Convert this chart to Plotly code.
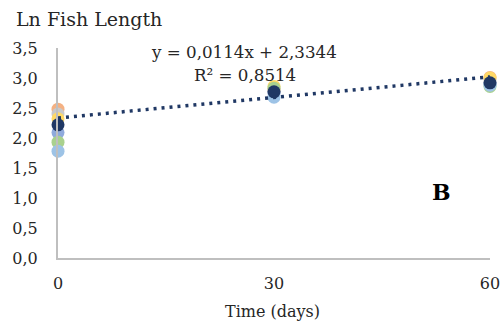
import plotly.graph_objects as go

days = [0, 30, 60]
series_names = ["S1", "S2", "S3", "S4", "S5", "S6", "Mean"]
series_values = [
    [2.48, 2.80, 3.01],
    [2.40, 2.78, 2.95],
    [2.32, 2.86, 3.00],
    [2.09, 2.75, 2.90],
    [1.93, 2.83, 2.86],
    [1.78, 2.68, 2.88],
    [2.22, 2.77, 2.92],
]
series_colors = ["#F4B183", "#C9C9C9", "#FFD966", "#8FAADC", "#A9D18E", "#9DC3E6", "#203864"]
trend_slope = 0.0114
trend_intercept = 2.3344
r_squared = 0.8514
y_ticks = [0.0, 0.5, 1.0, 1.5, 2.0, 2.5, 3.0, 3.5]
x_ticks = [0, 30, 60]

FONT = "DejaVu Serif"
W, H = 503, 325
# target plot area in page pixels: x 58..490, y 48..258
L, R, T, B = 58, 503 - 490, 48, 325 - 258
PW, PH = W - L - R, H - T - B

fig = go.Figure()
for name, vals, col in zip(series_names, series_values, series_colors):
    fig.add_trace(go.Scatter(x=days, y=vals, mode="markers", name=name,
                             marker=dict(size=13, color=col), cliponaxis=False))

tx = [days[0], days[-1]]
ty = [trend_intercept + trend_slope * x for x in tx]
fig.add_trace(go.Scatter(x=tx, y=ty, mode="lines",
                         line=dict(color="#203864", width=3.5, dash="3px,5px"),
                         cliponaxis=False, showlegend=False))

eq = f"y = {trend_slope:.4f}x + {trend_intercept:.4f}".replace(".", ",")
r2 = f"R² = {r_squared:.4f}".replace(".", ",")

def px(xp):
    return (xp - L) / PW

def py(yp):
    return (H - B - yp) / PH

fig.update_layout(
    width=W, height=H,
    margin=dict(l=L, r=R, t=T, b=B),
    paper_bgcolor="white", plot_bgcolor="white",
    showlegend=False,
    separators=",.",
    font=dict(family=FONT, color="#262626", size=16),
    xaxis=dict(range=[0, 60], tickvals=x_ticks, showgrid=False, zeroline=False, automargin=False,
               showline=True, linecolor="#BFBFBF", linewidth=2, ticks="",
               ticklabelstandoff=10, tickfont=dict(size=16)),
    yaxis=dict(range=[0, 3.5], tickvals=y_ticks, tickformat=".1f", showgrid=False, zeroline=False,
               automargin=False, showline=True, linecolor="#BFBFBF", linewidth=2, ticks="",
               ticklabelstandoff=15, tickfont=dict(size=16)),
    annotations=[
        dict(text="Ln Fish Length", xref="paper", yref="paper", x=px(14), y=py(19),
             xanchor="left", yanchor="middle", showarrow=False, font=dict(size=19)),
        dict(text="Time (days)", xref="paper", yref="paper", x=px(272), y=py(311),
             xanchor="center", yanchor="middle", showarrow=False, font=dict(size=16)),
        dict(text=eq, xref="paper", yref="paper", x=px(244), y=py(52),
             xanchor="center", yanchor="middle", showarrow=False, font=dict(size=16.7)),
        dict(text=r2, xref="paper", yref="paper", x=px(298), y=py(75),
             xanchor="right", yanchor="middle", showarrow=False, font=dict(size=16.7)),
        dict(text="<b>B</b>", xref="paper", yref="paper", x=px(441), y=py(192),
             xanchor="center", yanchor="middle", showarrow=False, font=dict(size=22, color="black")),
    ],
)
fig.write_html("out.html", config={"displayModeBar": False},
               post_script="document.body.style.margin='0';document.body.style.overflow='hidden';")
